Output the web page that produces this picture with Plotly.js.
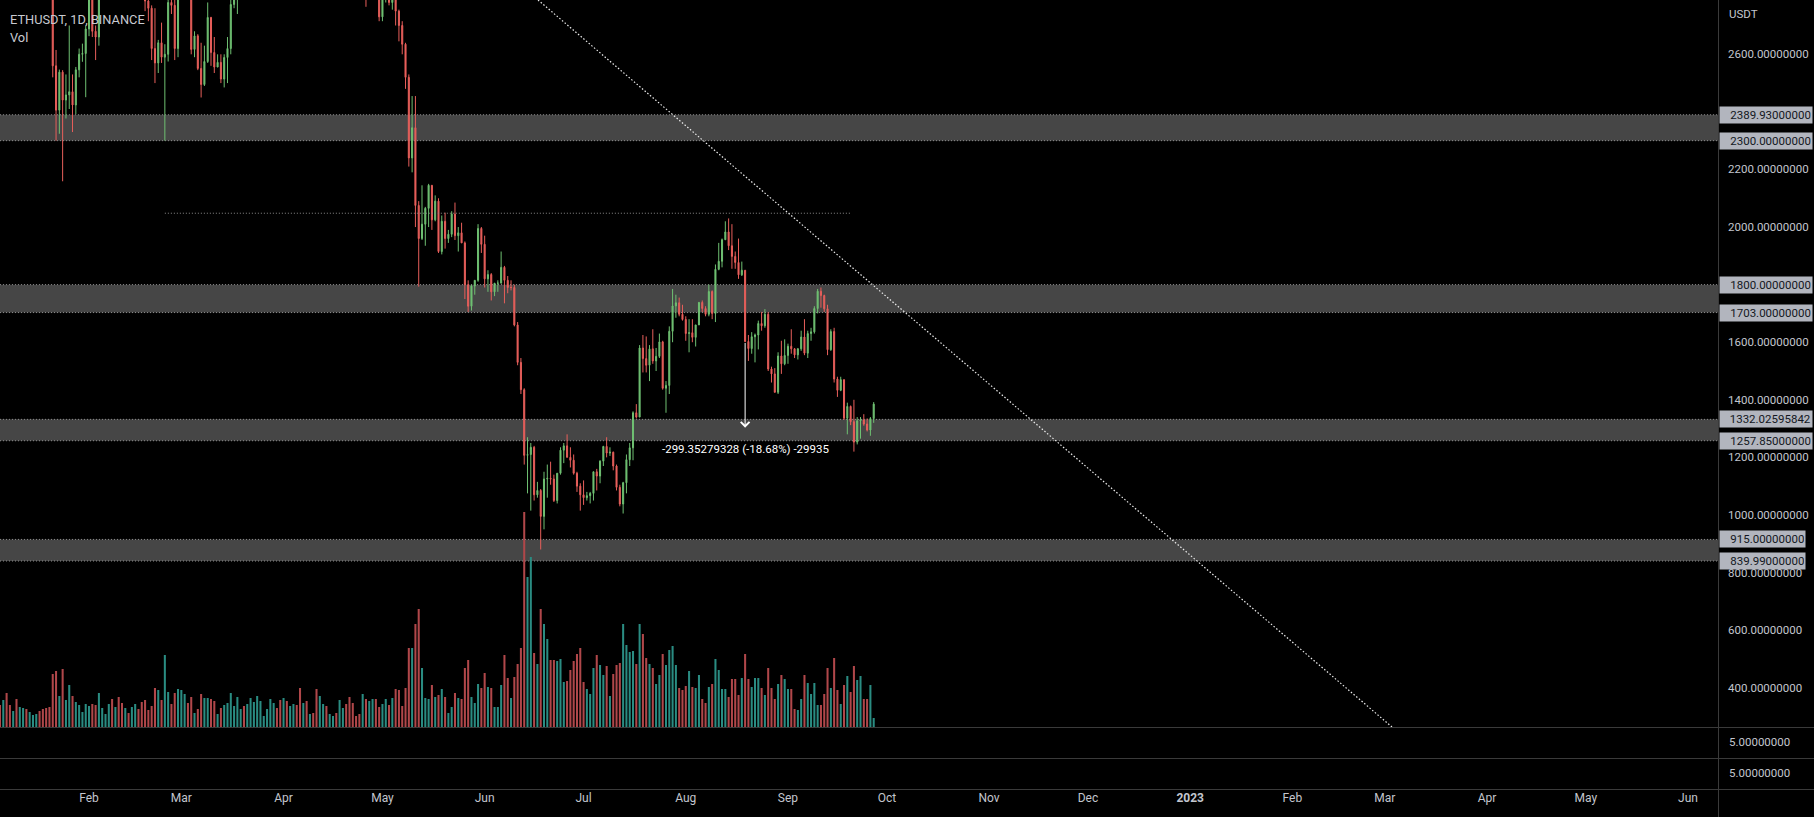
<!DOCTYPE html>
<html><head><meta charset="utf-8">
<script src="https://cdn.plot.ly/plotly-3.0.1.min.js"></script>
<style>html,body{margin:0;padding:0;background:#000;overflow:hidden}#chart{width:1814px;height:817px}</style>
</head><body><div id="chart"></div>
<script>
// ETHUSDT daily, Binance, 2022-01-05 .. 2022-09-27
const firstDay = [2022, 0, 5];
const open = [
 3541,3401,3411,3198,3082,3158,3082,3239,3372,3249,3308,3330,3349,3212,3164,3096,3000,2560,2406,2538,2441,2459,2470,2424,2546,2600,2603,
 2688,2792,2680,2660,2990,3025,3060,3140,3110,3240,3075,2925,2930,2880,2930,3180,3125,2885,2785,2760,2620,2570,2640,2590,2600,2780,2770,2620,
 2920,2950,2950,2834,2617,2664,2551,2495,2575,2728,2606,2556,2572,2514,2589,2620,2773,2815,2945,2950,2860,2895,2970,3030,3110,3110,3140,3295,3330,3400,3385,
 3280,3450,3445,3520,3520,3410,3170,3230,3190,3260,3210,2980,3030,3120,3020,3040,3060,2990,3060,3100,3080,2985,2965,2935,2920,3005,2810,2890,2935,2815,
 2730,2825,2855,2780,2940,2750,2700,2635,2520,2240,2345,2075,1960,2010,2065,2145,2025,2090,1915,2020,1960,1975,2045,1970,1980,1945,1800,1725,1795,1815,1995,
 1940,1820,1835,1775,1805,1805,1860,1815,1790,1790,1660,1530,1435,1207,1210,1235,1070,1085,995,1125,1127,1125,1050,1145,1225,1240,1200,1190,1145,1100,
 1070,1060,1067,1075,1150,1135,1187,1238,1215,1218,1170,1096,1038,1112,1192,1233,1355,1340,1580,1543,1520,1577,1535,1551,1601,1440,1450,1638,1726,1737,1697,
 1679,1630,1633,1617,1660,1738,1717,1697,1776,1700,1853,1881,1956,1983,1935,1898,1877,1834,1850,1602.5,1578,1619,1625,1665,1657,1697,1507,1490,1426,1552,1525,
 1554,1586,1577,1556,1577,1618,1562,1630,1636,1717,1777,1762,1716,1574,1637,1472,1433,1470,1336,1377,1324,1253,1327,1330,1316,1295,1335
];
const high = [
 3635,3420,3414,3236,3213,3185,3257,3413,3438,3360,3360,3376,3356,3218,3171,3265,3040,2615,2547,2545,2530,2700,2530,2556,2620,2637,2700,
 2818,2800,2700,3010,3060,3070,3190,3185,3260,3285,3140,2990,2955,2950,3190,3190,3160,2950,2800,2770,2760,2650,2710,2635,2810,2855,2835,2935,
 3000,3040,2970,2845,2680,2670,2640,2630,2780,2730,2660,2600,2600,2600,2660,2790,2840,2955,2985,2958,2975,3040,3040,3125,3190,3150,3300,3430,3480,3445,3445,
 3475,3530,3580,3550,3550,3415,3260,3295,3265,3305,3225,3080,3130,3130,3060,3070,3085,3070,3130,3175,3190,3030,2980,2965,3020,3035,2920,2980,2945,2840,
 2850,2875,2875,2960,2955,2755,2715,2640,2530,2455,2455,2090,2145,2070,2150,2145,2110,2100,2040,2050,1990,2055,2085,2000,2015,1950,1815,1800,1815,2010,2000,
 1970,1850,1840,1805,1815,1915,1865,1830,1815,1800,1670,1545,1440,1270,1250,1240,1115,1090,1150,1175,1185,1140,1145,1235,1250,1280,1235,1210,1150,1110,
 1120,1080,1080,1150,1160,1190,1240,1270,1235,1220,1175,1105,1115,1210,1250,1360,1385,1590,1625,1620,1590,1645,1580,1630,1605,1465,1655,1785,1765,1755,1730,
 1690,1680,1680,1660,1740,1745,1725,1800,1780,1870,1945,1960,2020,2030,2010,1915,1960,1880,1850,1625,1635,1630,1675,1705,1715,1705,1515,1510,1565,1605,1610,
 1595,1645,1580,1580,1640,1680,1640,1650,1725,1785,1790,1765,1730,1645,1650,1480,1480,1470,1390,1380,1400,1340,1340,1350,1335,1340,1392
];
const low = [
 3340,3285,3104,3000,3060,2929,3060,3216,3235,3215,3270,3283,3162,3075,3044,2990,2520,2300,2324,2159,2377,2410,2330,2392,2520,2574,2451,
 2663,2660,2580,2630,2990,2975,3020,2990,3070,3035,2860,2880,2850,2800,2920,3070,2860,2750,2715,2580,2500,2535,2570,2300,2575,2740,2580,2590,
 2860,2880,2820,2600,2590,2545,2450,2490,2570,2560,2535,2555,2500,2485,2500,2600,2760,2740,2925,2825,2840,2890,2930,2995,3080,3100,3130,3290,3320,3340,3270,
 3210,3440,3420,3410,3400,3160,3150,3170,3190,3200,2950,2950,3000,3000,3010,3030,2990,2880,3045,3060,2970,2940,2930,2910,2790,2765,2790,2860,2790,2715,
 2715,2780,2770,2755,2700,2645,2600,2480,2210,2190,2000,1793,1955,1935,2000,1990,2020,1910,1905,1925,1945,1965,1955,1915,1945,1750,1705,1710,1765,1810,1910,
 1790,1775,1745,1760,1775,1805,1735,1770,1780,1655,1520,1420,1175,1075,1015,1050,1060,880,950,1060,1105,1045,1040,1140,1180,1200,1165,1140,1080,1015,
 1035,1050,1040,1050,1085,1110,1170,1200,1205,1155,1085,1030,1005,1075,1170,1190,1335,1340,1495,1495,1465,1525,1500,1545,1435,1355,1420,1600,1685,1690,1675,
 1605,1565,1600,1585,1660,1705,1690,1690,1680,1670,1850,1860,1955,1920,1855,1855,1820,1830,1600,1535,1560,1530,1575,1640,1650,1500,1460,1425,1420,1490,1520,
 1525,1560,1545,1540,1570,1555,1545,1605,1630,1700,1720,1705,1555,1570,1460,1410,1430,1330,1280,1312,1220,1245,1265,1310,1290,1275,1320
];
const close = [
 3401,3411,3198,3082,3158,3082,3239,3372,3249,3308,3330,3349,3212,3164,3096,3000,2560,2406,2538,2441,2459,2470,2424,2546,2600,2603,2688,
 2792,2680,2660,2990,3025,3060,3140,3110,3240,3075,2925,2930,2880,2930,3180,3125,2885,2785,2760,2620,2570,2640,2590,2600,2780,2770,2620,2920,
 2950,2950,2834,2617,2664,2551,2495,2575,2728,2606,2556,2572,2514,2589,2620,2773,2815,2945,2950,2860,2895,2970,3030,3110,3110,3140,3295,3330,3400,3385,3280,
 3450,3445,3520,3520,3410,3170,3230,3190,3260,3210,2980,3030,3120,3020,3040,3060,2990,3060,3100,3080,2985,2965,2935,2920,3005,2810,2890,2935,2815,2730,
 2825,2855,2780,2940,2750,2700,2635,2520,2240,2345,2075,1960,2010,2065,2145,2025,2090,1915,2020,1960,1975,2045,1970,1980,1945,1800,1725,1795,1815,1995,1940,
 1820,1835,1775,1805,1805,1860,1815,1790,1790,1660,1530,1435,1207,1210,1235,1070,1085,995,1125,1127,1125,1050,1145,1225,1240,1200,1190,1145,1100,1070,
 1060,1067,1075,1150,1135,1187,1238,1215,1218,1170,1096,1038,1112,1192,1233,1355,1340,1580,1543,1520,1577,1535,1551,1601,1440,1450,1638,1726,1737,1697,1679,
 1630,1633,1617,1660,1738,1717,1697,1776,1700,1853,1881,1956,1983,1935,1898,1877,1834,1850,1602.5,1578,1619,1625,1665,1657,1697,1507,1490,1426,1552,1525,1554,
 1586,1577,1556,1577,1618,1562,1630,1636,1717,1777,1762,1716,1574,1637,1472,1433,1470,1336,1377,1324,1253,1327,1330,1316,1295,1335,1385
];
// volume, thousand ETH
const volume = [
 220,270,340,220,160,280,200,190,180,150,120,130,160,180,190,200,530,560,310,580,270,420,310,250,220,150,230,
 210,230,220,340,190,130,230,280,200,300,240,190,140,200,230,180,250,270,170,210,390,370,270,720,350,230,340,380,
 370,330,240,300,140,180,330,290,290,280,260,130,190,220,240,340,210,300,180,210,230,290,250,310,260,110,180,280,240,190,270,
 290,260,210,230,220,390,240,260,130,140,380,310,230,210,130,110,140,270,190,230,300,240,110,130,330,280,260,280,280,200,
 230,280,220,290,380,370,210,390,790,790,1030,1180,590,290,280,420,300,320,380,300,140,200,340,290,280,590,670,300,240,430,390,
 540,400,390,200,200,420,720,490,290,500,630,790,2150,1500,1700,740,630,1180,1030,880,670,670,660,680,450,460,570,660,730,790,
 450,380,330,590,720,620,520,610,310,530,620,640,1030,820,750,760,630,1030,930,690,630,590,430,520,730,620,770,810,620,390,370,
 410,560,400,390,520,280,240,400,430,680,570,380,380,300,480,480,320,490,730,480,400,490,490,390,320,590,390,280,430,520,480,
 380,380,180,170,280,520,440,330,440,220,220,330,590,390,690,370,230,420,510,350,610,470,510,280,280,420,90
];

const priceTicks = [2600, 2200, 2000, 1600, 1400, 1200, 1000, 800, 600, 400];
const zoneBands = [[2300, 2389.93], [1703, 1800], [1257.85, 1332.02595842], [839.99, 915]];
const zoneLabels = ['2389.93000000','2300.00000000','1800.00000000','1703.00000000','1332.02595842','1257.85000000','915.00000000','839.99000000'];
const zoneLevels = [2389.93, 2300, 1800, 1703, 1332.02595842, 1257.85, 915, 839.99];
const monthTicks = ['2022-02-01','2022-03-01','2022-04-01','2022-05-01','2022-06-01','2022-07-01','2022-08-01','2022-09-01','2022-10-01','2022-11-01','2022-12-01','2023-01-01','2023-02-01','2023-03-01','2023-04-01','2023-05-01','2023-06-01'];
const monthLabels = ['Feb','Mar','Apr','May','Jun','Jul','Aug','Sep','Oct','Nov','Dec','<b>2023</b>','Feb','Mar','Apr','May','Jun'];
const rayLevel = 2048, rayStart = '2022-02-24', rayEnd = '2022-09-20';
const trendStart = ['2022-06-17 04:30', 2788.6], trendEnd = ['2023-03-03 05:00', 263.5];
const measureDate = '2022-08-19', measureFrom = 1602.5, measureTo = 1303.15, measureTextY = 1229;
const measureText = '-299.35279328 (-18.68%) -29935';

const dates = open.map((_, i) => new Date(Date.UTC(firstDay[0], firstDay[1], firstDay[2] + i)).toISOString().slice(0, 10));
const volColors = close.map((c, i) => c >= open[i] ? '#2a8c82' : '#b0474a');

const W = 1814, H = 817, plotR = 1718;
const py = p => 1 - p / H;
const axisTxt = '#c3c6ce';

const traces = [
  {type:'bar', x:dates, y:volume, yaxis:'y2', marker:{color:volColors, line:{width:0}}, width:0.62*86400000, hoverinfo:'skip'},
  {type:'candlestick', x:dates, open:open, high:high, low:low, close:close, xaxis:'x', yaxis:'y',
   increasing:{line:{color:'#6fc072', width:1}, fillcolor:'#6fc072'},
   decreasing:{line:{color:'#e85f5b', width:1}, fillcolor:'#e85f5b'},
   whiskerwidth:0, hoverinfo:'skip'}
];

const shapes = [];
zoneBands.forEach(b => shapes.push({type:'rect', xref:'x domain', yref:'y', x0:0, x1:1, y0:b[0], y1:b[1], fillcolor:'#464646', line:{width:0}, layer:'below'}));
zoneLevels.forEach(v => shapes.push({type:'line', xref:'x domain', yref:'y', x0:0, x1:1, y0:v, y1:v, line:{color:'#8c8c8c', width:1, dash:'1px,2px'}, layer:'below'}));
shapes.push({type:'line', xref:'x', yref:'y', x0:rayStart, x1:rayEnd, y0:rayLevel, y1:rayLevel, line:{color:'#8c8c8c', width:1, dash:'1px,2px'}});
shapes.push({type:'line', xref:'x', yref:'y', x0:trendStart[0], y0:trendStart[1], x1:trendEnd[0], y1:trendEnd[1], line:{color:'#ececec', width:1.2, dash:'1.5px,2px'}});
[727, 758, 789].forEach(p => shapes.push({type:'line', xref:'paper', yref:'paper', x0:0, x1:1, y0:py(p+0.5), y1:py(p+0.5), line:{color:'#3a3a3a', width:1}}));
shapes.push({type:'line', xref:'paper', yref:'paper', x0:(plotR+0.5)/W, x1:(plotR+0.5)/W, y0:0, y1:1, line:{color:'#3a3a3a', width:1}});

const annotations = [
  {xref:'paper', yref:'paper', x:8/W, y:py(19), xanchor:'left', yanchor:'middle', text:'ETHUSDT, 1D, BINANCE', showarrow:false, font:{size:12.8, color:'#c8cad0'}},
  {xref:'paper', yref:'paper', x:8/W, y:py(38), xanchor:'left', yanchor:'middle', text:'Vol', showarrow:false, font:{size:12.8, color:'#c8cad0'}},
  {xref:'paper', yref:'paper', x:1727/W, y:py(14), xanchor:'left', yanchor:'middle', text:'USDT', showarrow:false, font:{size:11.5, color:axisTxt}},
  {xref:'paper', yref:'paper', x:1727/W, y:py(742), xanchor:'left', yanchor:'middle', text:'5.00000000', showarrow:false, font:{size:11.5, color:axisTxt}},
  {xref:'paper', yref:'paper', x:1727/W, y:py(773), xanchor:'left', yanchor:'middle', text:'5.00000000', showarrow:false, font:{size:11.5, color:axisTxt}},
  {xref:'x', yref:'y', x:measureDate, y:measureTo, axref:'x', ayref:'y', ax:measureDate, ay:measureFrom, text:'', showarrow:true, arrowhead:4, arrowsize:1.7, arrowwidth:1, arrowcolor:'#ffffff'},
  {xref:'x', yref:'y', x:measureDate, y:measureTextY, text:measureText, showarrow:false, xanchor:'center', yanchor:'middle', font:{size:11.5, color:'#ffffff'}}
];
zoneLevels.forEach((v, i) => annotations.push({xref:'paper', yref:'y', x:(plotR+0.5)/W, y:v, xanchor:'left', yanchor:'middle', text:zoneLabels[i], showarrow:false, bgcolor:'#b2b5be', font:{size:11.5, color:'#131722'}, borderpad:1, width:zoneLabels[i].length*6.45 + 6, align:'right'}));

const layout = {
  width:W, height:H, margin:{l:0, r:0, t:0, b:0}, paper_bgcolor:'#000', plot_bgcolor:'#000', showlegend:false,
  font:{family:'Roboto, "Liberation Sans", sans-serif', color:axisTxt, size:11.5},
  boxgap:0.55, bargap:0.3,
  xaxis:{domain:[0, plotR/W], type:'date', range:['2022-01-05 00:00','2023-06-10 02:00'], anchor:'free', position:py(789),
         showgrid:false, zeroline:false, showline:false, ticks:'', tickmode:'array', tickvals:monthTicks, ticktext:monthLabels,
         tickfont:{size:12, color:axisTxt}, rangeslider:{visible:false}, fixedrange:true},
  yaxis:{domain:[py(727), 1], range:[263.5, 2788.6], side:'right', showgrid:false, zeroline:false, showline:false, ticks:'',
         tickmode:'array', tickvals:priceTicks, ticktext:priceTicks.map(v => v.toFixed(8)), tickfont:{size:11.5, color:axisTxt},
         ticklabelstandoff:9, fixedrange:true},
  yaxis2:{domain:[py(727), 1], overlaying:'y', range:[0, 7270], visible:false, fixedrange:true},
  shapes:shapes, annotations:annotations
};
Plotly.newPlot('chart', traces, layout, {displayModeBar:false, staticPlot:true});
</script></body></html>
